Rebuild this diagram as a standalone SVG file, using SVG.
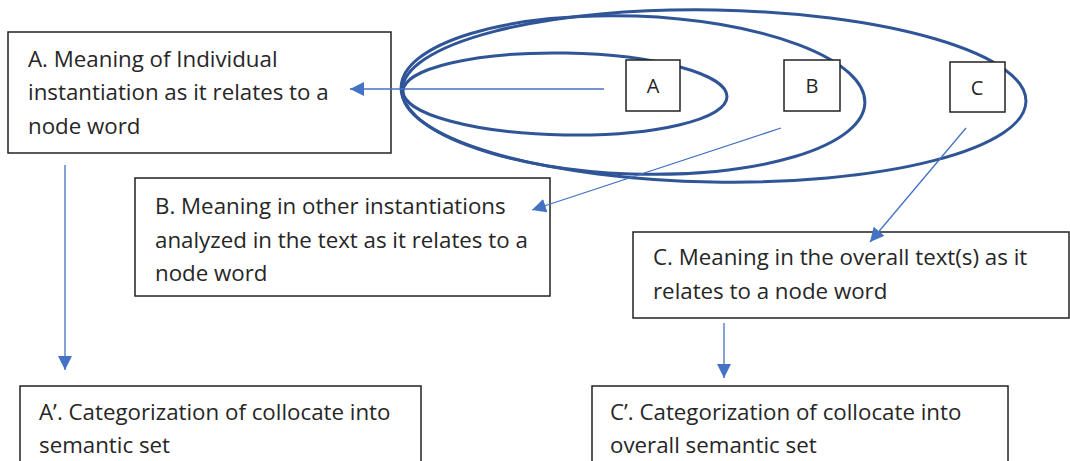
<svg xmlns="http://www.w3.org/2000/svg" width="1070" height="461" viewBox="0 0 1070 461">
<style>
.box{fill:#fff;stroke:#222;stroke-width:1.5}
.t{font-family:"Open Sans","Noto Sans",sans-serif;font-size:22.3px;fill:#262626}
.lbl{font-family:"Open Sans","Noto Sans",sans-serif;font-size:20px;fill:#262626;text-anchor:middle}
.ell{fill:none;stroke:#2F5597;stroke-width:3}
.con{fill:none;stroke:#4472C4;stroke-width:1.3}
</style>
<defs>
<marker id="ah" markerUnits="userSpaceOnUse" markerWidth="16" markerHeight="16" refX="14" refY="7" orient="auto">
<path d="M0,0 L14,7 L0,14 Z" fill="#4472C4"/>
</marker>
</defs>
<rect width="1070" height="461" fill="#fff"/>
<g id="sets">
<ellipse class="ell" cx="714" cy="96" rx="312" ry="86" transform="rotate(1 714 96)"/>
<ellipse class="ell" cx="633" cy="95" rx="232" ry="79" transform="rotate(2 633 95)"/>
<ellipse class="ell" cx="565" cy="94" rx="162" ry="41" transform="rotate(1 565 94)"/>
</g>
<g id="nodeA">
<rect class="box" x="626" y="60" width="54" height="51"/>
<text class="lbl" x="653" y="93">A</text>
</g>
<g id="nodeB">
<rect class="box" x="784" y="60" width="56" height="51"/>
<text class="lbl" x="812" y="93">B</text>
</g>
<g id="nodeC">
<rect class="box" x="950" y="62" width="55" height="50"/>
<text class="lbl" x="977" y="95">C</text>
</g>
<g id="boxA">
<rect class="box" x="8" y="32" width="383" height="121"/>
<text class="t" x="28" y="67">A. Meaning of Individual</text>
<text class="t" x="28" y="100">instantiation as it relates to a</text>
<text class="t" x="28" y="134">node word</text>
</g>
<g id="boxB">
<rect class="box" x="135" y="178" width="415" height="118"/>
<text class="t" x="155" y="214">B. Meaning in other instantiations</text>
<text class="t" x="155" y="248">analyzed in the text as it relates to a</text>
<text class="t" x="155" y="281">node word</text>
</g>
<g id="boxC">
<rect class="box" x="633" y="232" width="436" height="86"/>
<text class="t" x="653" y="265">C. Meaning in the overall text(s) as it</text>
<text class="t" x="653" y="299">relates to a node word</text>
</g>
<g id="boxA2">
<rect class="box" x="20" y="386" width="401" height="90"/>
<text class="t" x="39" y="420">A’. Categorization of collocate into</text>
<text class="t" x="39" y="453">semantic set</text>
</g>
<g id="boxC2">
<rect class="box" x="592" y="386" width="416" height="90"/>
<text class="t" x="610" y="420">C’. Categorization of collocate into</text>
<text class="t" x="610" y="453">overall semantic set</text>
</g>
<g id="connectors">
<line class="con" x1="604" y1="89" x2="350" y2="89" marker-end="url(#ah)"/>
<line class="con" x1="781" y1="128" x2="532" y2="210" marker-end="url(#ah)"/>
<line class="con" x1="966" y1="128" x2="870" y2="242" marker-end="url(#ah)"/>
<line class="con" x1="65" y1="165" x2="65" y2="370" marker-end="url(#ah)"/>
<line class="con" x1="724" y1="323" x2="724" y2="378" marker-end="url(#ah)"/>
</g>
</svg>
